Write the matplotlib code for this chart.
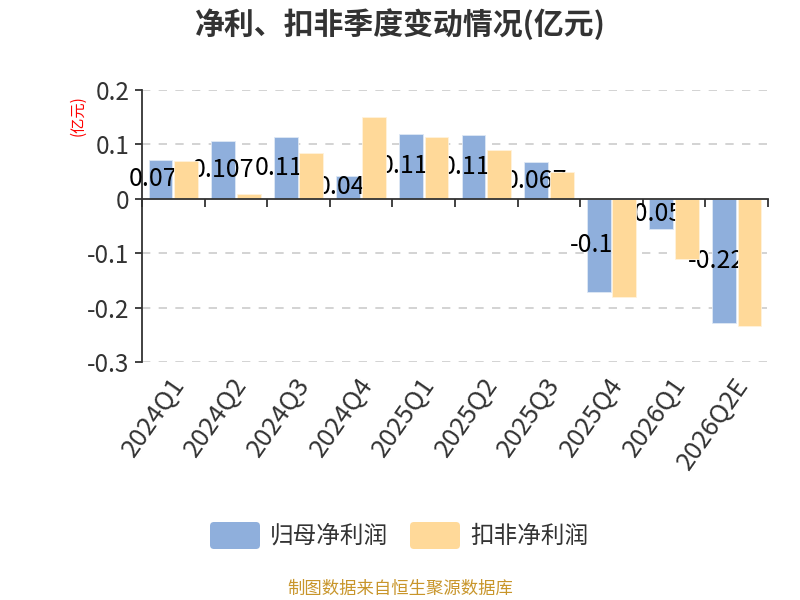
import matplotlib
matplotlib.use("Agg")
import matplotlib.pyplot as plt
from matplotlib.patches import FancyBboxPatch
from matplotlib.transforms import IdentityTransform

plt.rcParams['font.family'] = ['Noto Sans CJK SC', 'DejaVu Sans']
plt.rcParams['axes.unicode_minus'] = False

quarters = ['2024Q1', '2024Q2', '2024Q3', '2024Q4', '2025Q1',
            '2025Q2', '2025Q3', '2025Q4', '2026Q1', '2026Q2E']
net_profit = [0.071, 0.107, 0.113, 0.042, 0.119, 0.117, 0.067, -0.171, -0.055, -0.228]
deducted_profit = [0.070, 0.008, 0.085, 0.150, 0.114, 0.090, 0.050, -0.181, -0.111, -0.233]
net_labels = ['0.071', '0.107', '0.113', '0.042', '0.119', '0.117', '0.067', '-0.17', '-0.055', '-0.228']
yticks = [-0.3, -0.2, -0.1, 0, 0.1, 0.2]
ytick_labels = ['-0.3', '-0.2', '-0.1', '0', '0.1', '0.2']

blue = '#8FAFDC'
orange = '#FFD999'

fig = plt.figure(figsize=(8, 6), dpi=100)
ax = fig.add_axes([142 / 800, 1 - 362 / 600, (768 - 142) / 800, (362 - 90) / 600])

x = list(range(len(quarters)))
w = 0.38
off = 0.205
ax.bar([i - off for i in x], net_profit, w, color=blue, edgecolor='#dfe8f5', linewidth=0.6, zorder=2)
for i, v in enumerate(net_profit):
    ax.text(i - off, v / 2, net_labels[i], ha='center', va='center', fontsize=18,
            color='black', zorder=3)
ax.bar([i + off for i in x], deducted_profit, w, color=orange, edgecolor='#fff3dc', linewidth=0.6, zorder=4)

ax.set_xlim(-0.5, len(quarters) - 0.5)
ax.set_ylim(-0.3, 0.2)

for s in ['top', 'right']:
    ax.spines[s].set_visible(False)
ax.spines['bottom'].set_position(('data', 0))
ax.spines['bottom'].set_color('#333333')
ax.spines['left'].set_color('#333333')
ax.spines['bottom'].set_linewidth(1.3)
ax.spines['left'].set_linewidth(1.3)
ax.spines['bottom'].set_zorder(5)

ax.set_yticks(yticks)
ax.set_yticklabels(ytick_labels)
ax.tick_params(axis='y', length=5, width=1.3, color='#333333', labelsize=17.5,
               labelcolor='#333333', pad=4)
ax.set_xticks([i - 0.5 for i in range(len(quarters) + 1)])
ax.set_xticklabels([])
ax.tick_params(axis='x', length=6, width=1.3, color='#333333', direction='out')

for t in yticks:
    if t != 0:
        ax.axhline(t, color='#cccccc', linestyle=(0, (5, 5)), linewidth=1.2, zorder=0)

for i, q in enumerate(quarters):
    ax.annotate(q, xy=(i, -0.3), xytext=(-3, -8), textcoords='offset points',
                ha='right', va='top', rotation=55, rotation_mode='anchor',
                fontsize=18.5, color='#333333')

fig.text(78 / 800, 1 - 116 / 600, '(亿元)', rotation=90, color='red', fontsize=11,
         ha='center', va='center')

fig.text(0.5, 1 - 24 / 600, '净利、扣非季度变动情况(亿元)', ha='center', va='center',
         fontsize=21.5, fontweight='bold', color='#333333')

# legend
legend_items = [(210, blue, '归母净利润'), (410, orange, '扣非净利润')]
for x0, c, name in legend_items:
    fig.patches.append(FancyBboxPatch((x0 + 4, 600 - 549 + 4), 42, 19,
                                      boxstyle='round,pad=4', facecolor=c, edgecolor='none',
                                      transform=IdentityTransform(), figure=fig))
    fig.text((x0 + 60) / 800, 1 - 536 / 600, name, ha='left', va='center',
             fontsize=17, color='#333333')

fig.text(0.5, 1 - 589 / 600, '制图数据来自恒生聚源数据库', ha='center', va='center',
         fontsize=12.5, color='#C8952A')

fig.savefig('out.png', dpi=100)
